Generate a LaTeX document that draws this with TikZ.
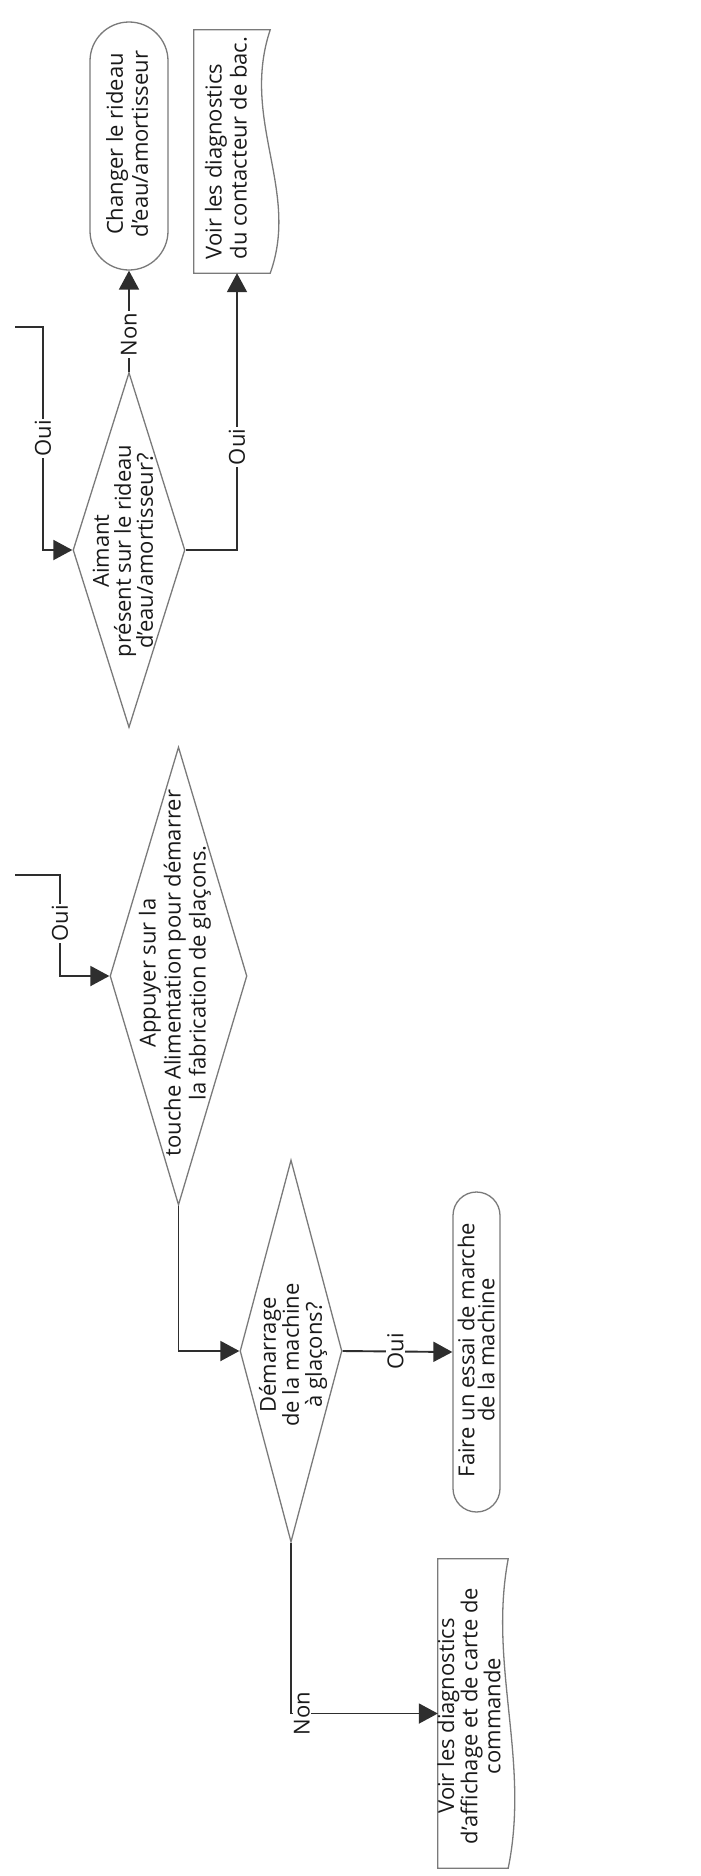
\documentclass[tikz,border=0pt]{standalone}
\usepackage{fontspec}
\setmainfont{Open Sans}
\usetikzlibrary{shapes.geometric,arrows.meta,calc}
\definecolor{ink}{HTML}{1A1A1A}
\definecolor{edge}{HTML}{7A7A7A}
\definecolor{wire}{HTML}{2E2E2E}
\begin{document}
\begin{tikzpicture}[x=1pt,y=-1pt,
  txt/.style={rotate=90, align=center, font=\fontsize{22}{25}\selectfont, text=ink, inner sep=0pt},
  lbl/.style={rotate=90, fill=white, font=\fontsize{22}{25}\selectfont, text=ink, inner sep=1.5pt},
  dianode/.style={diamond, draw=edge, line width=1.3pt, inner sep=0pt},
  term/.style={rectangle, draw=edge, line width=1.3pt, inner sep=0pt},
  docbox/.style={rectangle, inner sep=0pt},
  docline/.style={draw=edge, line width=1.3pt, line join=miter},
  wire/.style={draw=wire, line width=1.9pt, -{Triangle[length=19pt,width=20pt]}},
  plain/.style={draw=wire, line width=1.9pt}]
\useasboundingbox (0,0) rectangle (701,1876);
\fill[white] (0,0) rectangle (701,1876);

% shapes
\node[term, minimum width=78, minimum height=248, rounded corners=39] (t1) at (129,146) {};
\node[docbox, minimum width=76, minimum height=243] (doc1) at (232,151.5) {};
\draw[docline] (doc1.south east) -- (doc1.south west) -- (doc1.north west) -- (doc1.north east)
  .. controls +(-30,90) and +(30,-83) .. (doc1.south east) -- cycle;
\node[dianode, minimum width=112, minimum height=355] (d1) at (129,550) {};
\node[dianode, minimum width=137, minimum height=458] (d2) at (178.5,976) {};
\node[dianode, minimum width=102, minimum height=382] (d3) at (291,1351) {};
\node[term, minimum width=47, minimum height=320, rounded corners=23.5] (t2) at (476.5,1352) {};
\node[docbox, minimum width=70, minimum height=309] (doc2) at (473,1713.5) {};
\draw[docline] (doc2.south east) -- (doc2.south west) -- (doc2.north west) -- (doc2.north east)
  .. controls +(-20,106) and +(22,-108) .. (doc2.south east) -- cycle;

% texts
\node[txt] (t1txt) at (127,144) {Changer le rideau\\d’eau/amortisseur};
\node[txt, align=left] (doc1txt) at (226,148) {Voir les diagnostics\\du contacteur de bac.};
\node[txt, font=\fontsize{22}{22}\selectfont] (d1txt) at (123,551) {Aimant\\présent sur le rideau\\d’eau/amortisseur?};
\node[txt] (d2txt) at (175,973) {Appuyer sur la\\touche Alimentation pour démarrer\\la fabrication de glaçons.};
\node[txt, font=\fontsize{22}{23}\selectfont] (d3txt) at (293,1355) {Démarrage\\de la machine\\à glaçons?};
\node[txt, font=\fontsize{22}{20}\selectfont] (t2txt) at (476,1350) {Faire un essai de marche\\de la machine};
\node[txt, font=\fontsize{22}{18}\selectfont] (doc2txt) at (469,1716) {Voir les diagnostics\\d’affichage et de carte de\\commande};

% connectors
\coordinate (in1) at (15,327);
\coordinate (in2) at (15,875);
\draw[wire] (in1) -- ++(28,0) |- node[lbl,pos=0.25]{Oui} (d1.west);
\draw[wire] (d1.north) -- node[lbl,pos=0.37]{Non} (t1.south);
\draw[wire] (d1.east) -| node[lbl,pos=0.686]{Oui} ([xshift=5pt]doc1.south);
\draw[wire] (in2) -- ++(45,0) |- node[lbl,pos=0.24]{Oui} (d2.west);
\draw[wire] (d2.south) |- (d3.west);
\draw[wire] (d3.east) -- node[lbl,pos=0.48]{Oui} (t2.west);
\draw[wire] (d3.south) |- node[xshift=11pt,lbl,pos=0.5]{Non} (doc2.west);
\end{tikzpicture}
\end{document}
